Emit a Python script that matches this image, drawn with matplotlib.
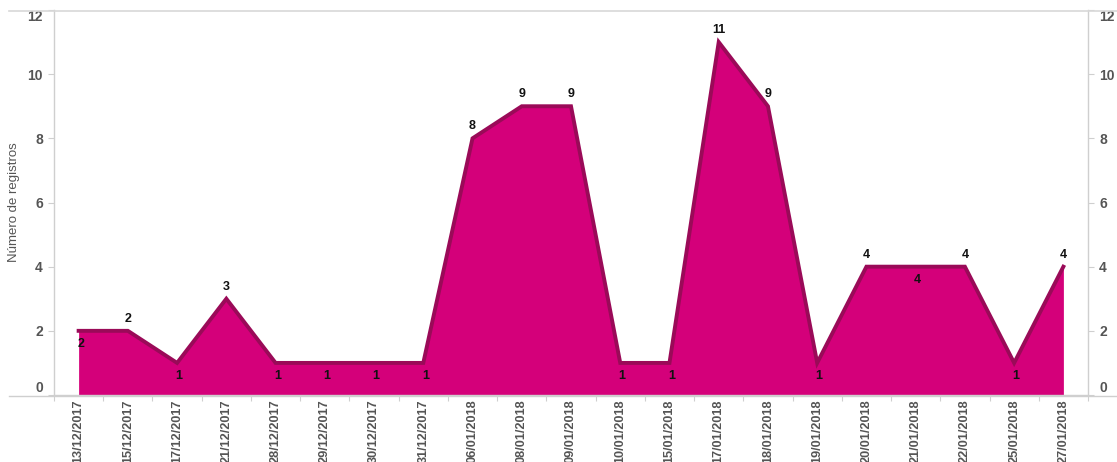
import matplotlib
matplotlib.use("Agg")
import matplotlib.pyplot as plt
from matplotlib.lines import Line2D

dates = ["13/12/2017", "15/12/2017", "17/12/2017", "21/12/2017", "28/12/2017",
         "29/12/2017", "30/12/2017", "31/12/2017", "06/01/2018", "08/01/2018",
         "09/01/2018", "10/01/2018", "15/01/2018", "17/01/2018", "18/01/2018",
         "19/01/2018", "20/01/2018", "21/01/2018", "22/01/2018", "25/01/2018",
         "27/01/2018"]
registros = [2, 2, 1, 3, 1, 1, 1, 1, 8, 9, 9, 1, 1, 11, 9, 1, 4, 4, 4, 1, 4]
label_side = ["below", "above", "below", "above", "below", "below", "below", "below",
              "above", "above", "above", "below", "below", "above", "above", "below",
              "above", "below", "above", "below", "above"]
yticks = [0, 2, 4, 6, 8, 10, 12]
ylabel = "Número de registros"

plt.rcParams['font.family'] = ['Liberation Sans', 'DejaVu Sans']

W, H = 1117, 462
fig = plt.figure(figsize=(W / 100, H / 100), dpi=100)
x0, x1 = 54, 1088
ytop, ybot = 10, 395
ax = fig.add_axes([x0 / W, (H - ybot) / H, (x1 - x0) / W, (ybot - ytop) / H])

xs = list(range(len(dates)))
fill_c = "#D4007A"
line_c = "#9A0A58"
ax.fill_between(xs, registros, 0, color=fill_c, linewidth=0, zorder=2)
ax.plot(xs, registros, color=line_c, linewidth=2.8, solid_joinstyle="miter", zorder=3)

ax.set_xlim(-0.5, len(dates) - 0.5)
ax.set_ylim(0, 12)

for x, v, side in zip(xs, registros, label_side):
    if side == "above":
        ax.annotate(str(v), (x, v), xytext=(0, 6), textcoords="offset pixels",
                    ha="center", va="bottom", fontsize=9, fontweight="bold",
                    color="#111111", zorder=5)
    else:
        ax.annotate(str(v), (x, v), xytext=(2, -7), textcoords="offset pixels",
                    ha="center", va="top", fontsize=9, fontweight="bold",
                    color="#111111", zorder=5)

grey = "#cfcfcf"
tick_c = "#555555"
ax.spines["top"].set_visible(False)
for s in ["left", "right", "bottom"]:
    ax.spines[s].set_color(grey)
    ax.spines[s].set_linewidth(1.0)

ax.set_yticks(yticks)
ax.set_yticklabels([str(t) for t in yticks])
ax.tick_params(axis="y", which="major", length=4, width=0.8, color=grey,
               labelsize=10, labelcolor=tick_c, pad=4, left=True, right=True,
               labelleft=True, labelright=True)

ax.set_xticks(xs)
ax.set_xticklabels(dates, rotation=90, fontsize=9.2, color=tick_c, fontweight="bold")
ax.set_xticks([x + 0.5 for x in xs[:-1]] + [-0.5, len(dates) - 0.5], minor=True)
ax.tick_params(axis="x", which="major", length=0, pad=3)
ax.tick_params(axis="x", which="minor", length=4, width=0.8, color=grey)

ax.set_ylabel(ylabel, fontsize=9.5, color=tick_c)
ax.yaxis.set_label_coords((20 - x0) / (x1 - x0), 0.5)

for t in ax.yaxis.get_major_ticks():
    for lab in (t.label1, t.label2):
        lab.set_fontweight("bold")
    if t.label1.get_text() == "0":
        t.label1.set_va("bottom"); t.label2.set_va("bottom")
    if t.label1.get_text() == "12":
        t.label1.set_va("top"); t.label2.set_va("top")

# separator lines across the figure
fig.add_artist(Line2D([9 / W, 1], [(H - 11) / H] * 2, color="#d8d8d8", linewidth=1.2,
                      transform=fig.transFigure))
fig.add_artist(Line2D([9 / W, 1], [(H - 395.5) / H] * 2, color=grey, linewidth=1.0,
                      transform=fig.transFigure))

fig.savefig("out.png", dpi=100)
